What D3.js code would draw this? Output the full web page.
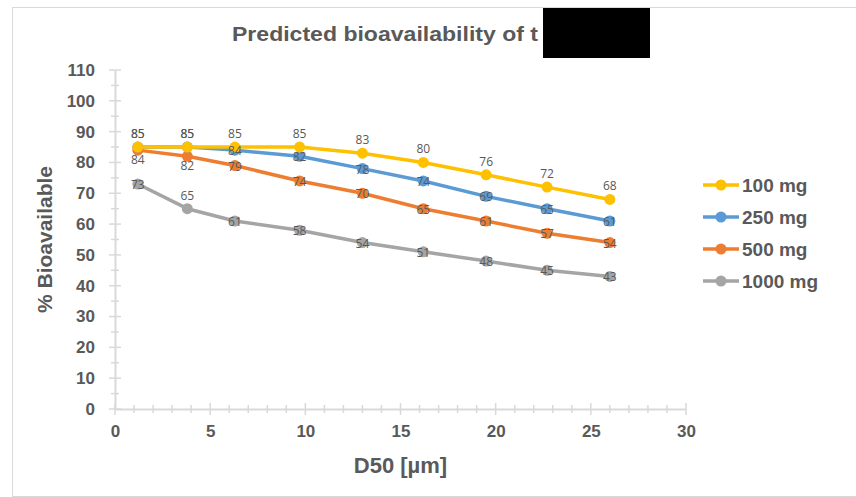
<!DOCTYPE html>
<html>
<head>
<meta charset="utf-8">
<script src="https://cdn.jsdelivr.net/npm/d3@7"></script>
<style>
  body { margin: 0; background: #fff; }
  svg { display: block; }
</style>
</head>
<body>
<div id="chart"></div>
<script>
// D50 particle size (µm) per point
const d50 = [1.2, 3.8, 6.3, 9.7, 13, 16.2, 19.5, 22.7, 26];
const doses = ["100 mg", "250 mg", "500 mg", "1000 mg"];
const bio100 = [85, 85, 85, 85, 83, 80, 76, 72, 68];
const bio250 = [85, 85, 84, 82, 78, 74, 69, 65, 61];
const bio500 = [84, 82, 79, 74, 70, 65, 61, 57, 54];
const bio1000 = [73, 65, 61, 58, 54, 51, 48, 45, 43];
const xTicks = [0, 5, 10, 15, 20, 25, 30];
const yTicks = [0, 10, 20, 30, 40, 50, 60, 70, 80, 90, 100, 110];

const colors = ["#FFC000", "#5B9BD5", "#ED7D31", "#A5A5A5"];
// where the data label sits for each series
const labelPos = ["above", "center", "center", "center"];

const series = doses.map((name, i) => ({
    name: name,
    values: [bio100, bio250, bio500, bio1000][i],
    color: colors[i],
    labelPos: labelPos[i]
}));
// some labels were dragged in the original
series[1].override = { 0: "above", 1: "above" };
series[2].override = { 0: "below", 1: "below" };
series[3].override = { 1: "above" };

const width = 856, height = 497;
const margin = { left: 115, right: 170, top: 70, bottom: 88 };

const svg = d3.select("#chart").append("svg")
    .attr("width", width)
    .attr("height", height);

// chart border
svg.append("rect")
    .attr("x", 12.5).attr("y", 7.5)
    .attr("width", width).attr("height", 489)
    .attr("fill", "#fff")
    .attr("stroke", "#d9d9d9");

const x = d3.scaleLinear().domain([0, 30]).range([margin.left, width - margin.right]);
const y = d3.scaleLinear().domain([0, 110]).range([height - margin.bottom, margin.top]);

const axisColor = "#d9d9d9";
const textColor = "#595959";
const font = "Liberation Sans, Arial, sans-serif";

// minor + major ticks crossing the axes
const g = svg.append("g");
d3.range(0, 111, 5).forEach(v => {
    const len = v % 10 === 0 ? 6 : 4;
    g.append("line")
        .attr("x1", x(0) - len).attr("x2", x(0) + len)
        .attr("y1", y(v)).attr("y2", y(v))
        .attr("stroke", axisColor).attr("stroke-width", 1.5);
});
d3.range(0, 31, 1).forEach(v => {
    const len = v % 5 === 0 ? 6 : 4;
    g.append("line")
        .attr("x1", x(v)).attr("x2", x(v))
        .attr("y1", y(0) - len).attr("y2", y(0) + len)
        .attr("stroke", axisColor).attr("stroke-width", 1.5);
});

const yAxis = svg.append("g")
    .attr("transform", `translate(${x(0)},0)`)
    .call(d3.axisLeft(y).tickValues(yTicks).tickSize(0).tickPadding(20));
const xAxis = svg.append("g")
    .attr("transform", `translate(0,${y(0)})`)
    .call(d3.axisBottom(x).tickValues(xTicks).tickSize(0).tickPadding(16));

[xAxis, yAxis].forEach(a => {
    a.select(".domain").attr("stroke", axisColor).attr("stroke-width", 2);
    a.selectAll("text")
        .attr("fill", textColor)
        .style("font-family", font)
        .style("font-size", "17px")
        .style("font-weight", "bold");
});

// axis titles
svg.append("text")
    .attr("x", x(15)).attr("y", 473)
    .attr("text-anchor", "middle")
    .attr("fill", textColor)
    .style("font-family", font)
    .style("font-size", "22px")
    .style("font-weight", "bold")
    .text("D50 [µm]");

svg.append("text")
    .attr("transform", `translate(52,${y(55)}) rotate(-90)`)
    .attr("text-anchor", "middle")
    .attr("fill", textColor)
    .style("font-family", font)
    .style("font-size", "21px")
    .style("font-weight", "bold")
    .text("% Bioavailable");

// title (partly blacked out in the source)
svg.append("text")
    .attr("x", 232).attr("y", 41)
    .attr("fill", textColor)
    .attr("textLength", 306)
    .attr("lengthAdjust", "spacingAndGlyphs")
    .style("font-family", font)
    .style("font-size", "21px")
    .style("font-weight", "bold")
    .text("Predicted bioavailability of t");
svg.append("rect")
    .attr("x", 543).attr("y", 8)
    .attr("width", 107).attr("height", 50)
    .attr("fill", "#000");

const line = d3.line()
    .x((d, i) => x(d50[i]))
    .y(d => y(d));

// draw lines from last to first so 100 mg sits on top
series.slice().reverse().forEach(s => {
    svg.append("path")
        .datum(s.values)
        .attr("d", line)
        .attr("fill", "none")
        .attr("stroke", s.color)
        .attr("stroke-width", 3.5)
        .attr("stroke-linejoin", "round");
    svg.selectAll(null)
        .data(s.values)
        .enter()
        .append("circle")
        .attr("cx", (d, i) => x(d50[i]))
        .attr("cy", d => y(d))
        .attr("r", 5.5)
        .attr("fill", s.color);
});

// data labels
series.forEach(s => {
    svg.selectAll(null)
        .data(s.values)
        .enter()
        .append("text")
        .attr("x", (d, i) => x(d50[i]))
        .attr("y", (d, i) => {
            const pos = (s.override && s.override[i]) || s.labelPos;
            if (pos === "above") return y(d) - 9;
            if (pos === "below") return y(d) + 14;
            return y(d) + 5;
        })
        .attr("text-anchor", "middle")
        .attr("fill", textColor)
        .style("font-family", "Open Sans, sans-serif")
        .style("font-size", "12px")
        .text(d => d);
});

// legend
const legend = svg.append("g").attr("transform", "translate(703,185)");
series.forEach((s, i) => {
    const row = legend.append("g").attr("transform", `translate(0,${i * 32})`);
    row.append("line")
        .attr("x1", 0).attr("x2", 36)
        .attr("stroke", s.color).attr("stroke-width", 3.5);
    row.append("circle")
        .attr("cx", 18).attr("r", 5.5)
        .attr("fill", s.color);
    row.append("text")
        .attr("x", 39).attr("y", 7)
        .attr("fill", textColor)
        .style("font-family", font)
        .style("font-size", "19px")
        .style("font-weight", "bold")
        .text(s.name);
});
</script>
</body>
</html>
